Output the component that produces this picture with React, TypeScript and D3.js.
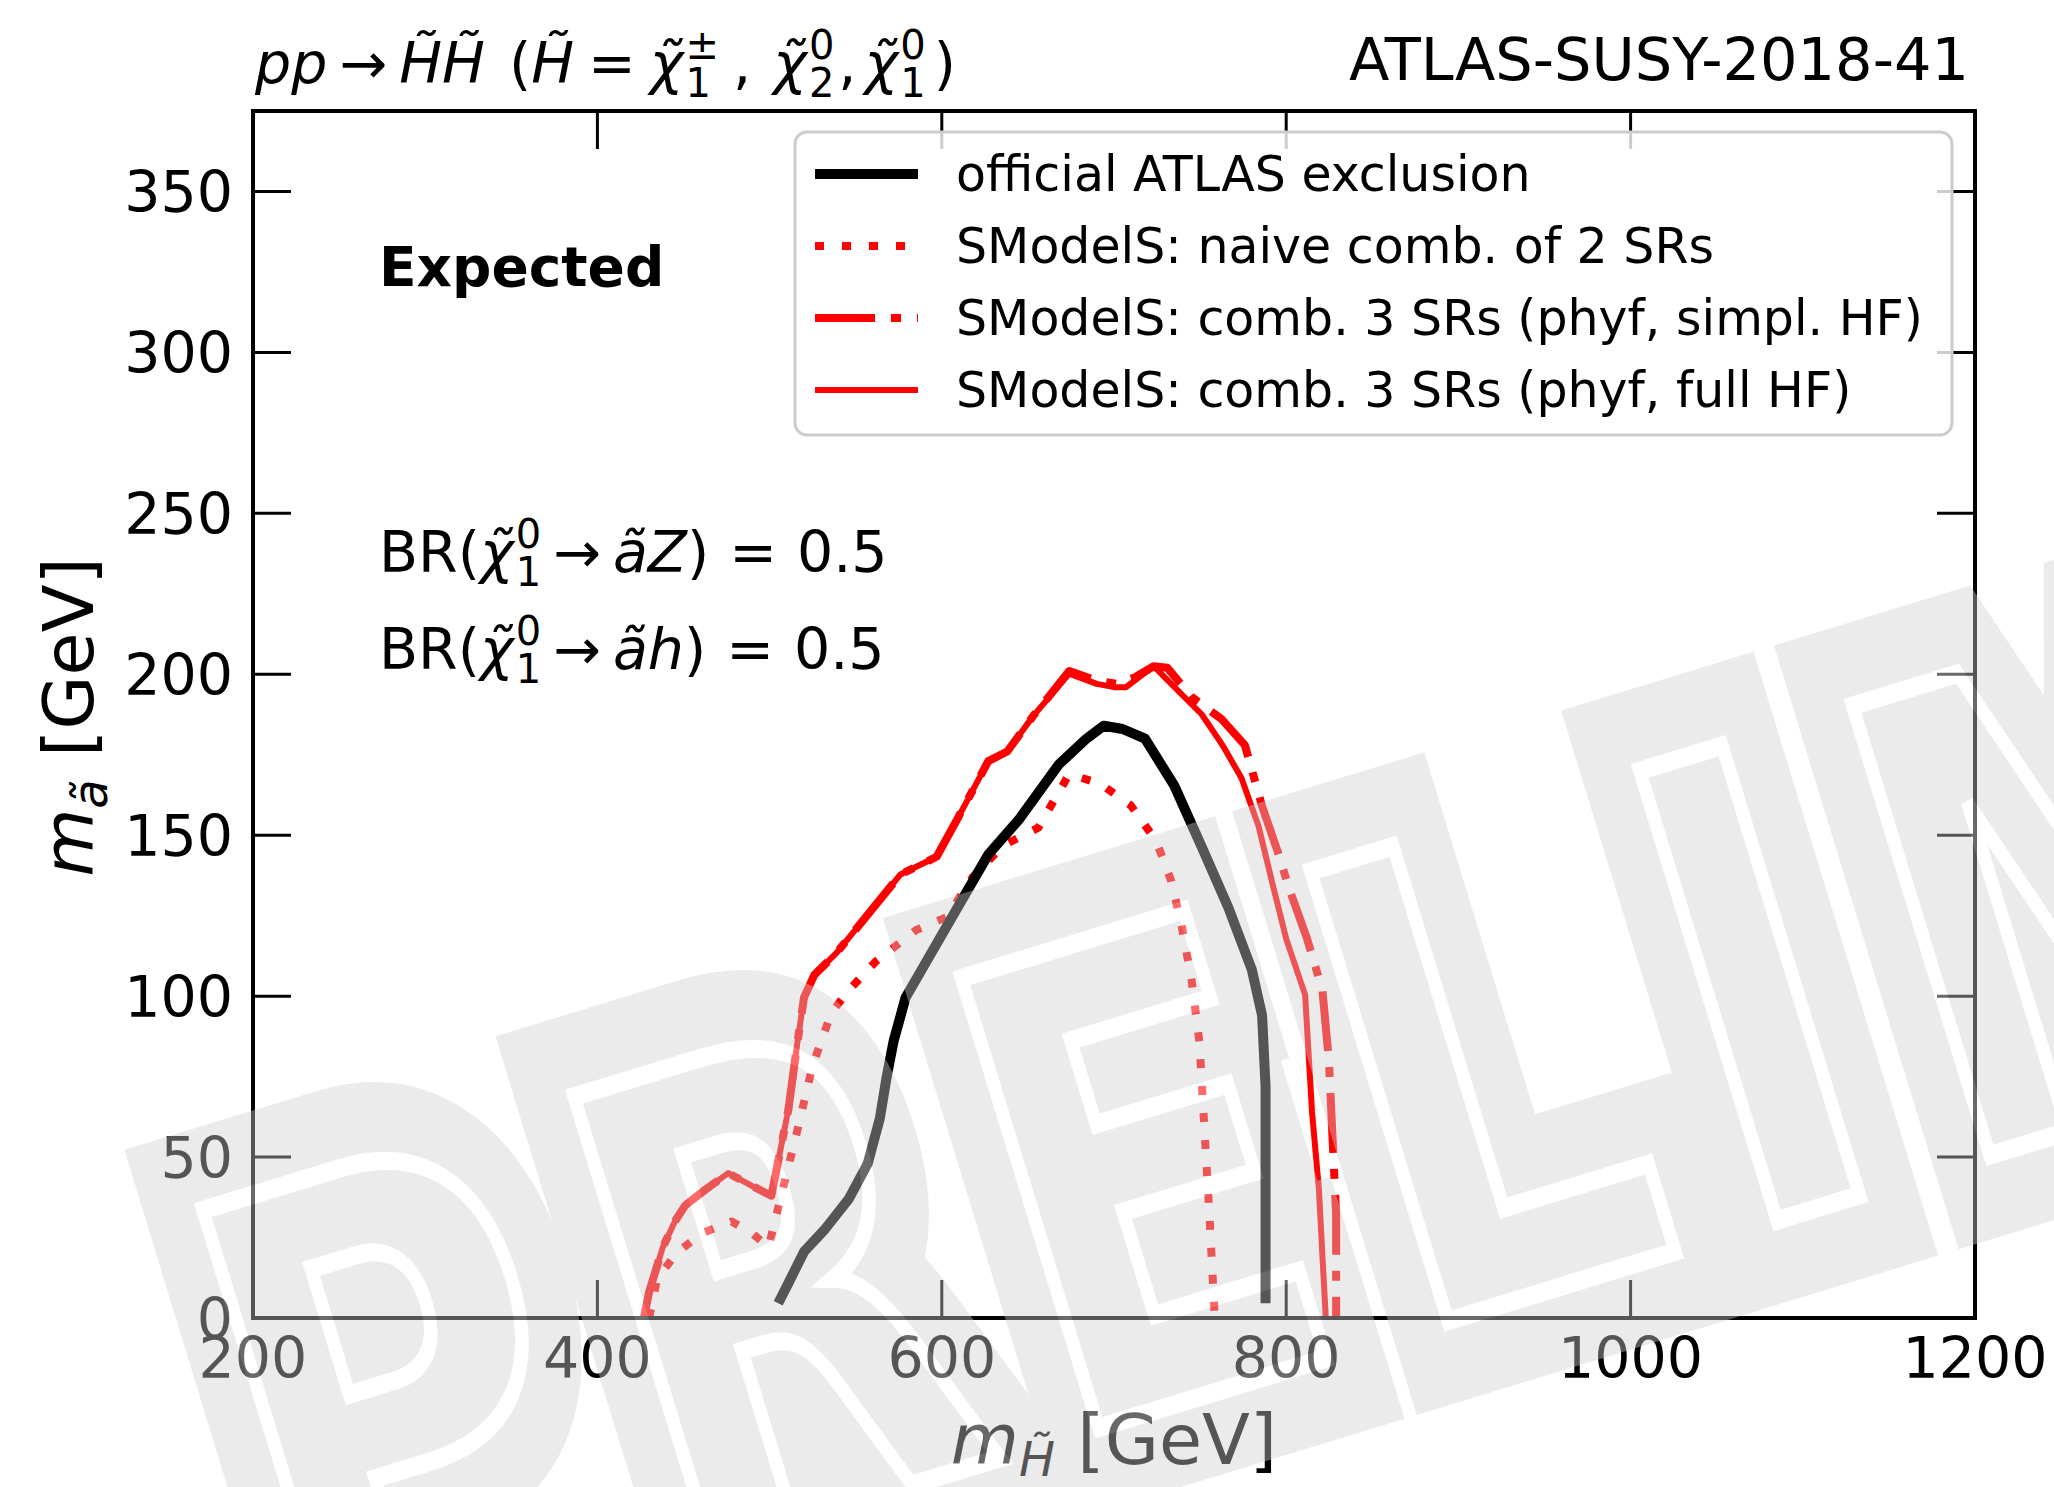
import React, { useEffect } from 'react';
import * as d3 from 'd3';

// ---------- data ----------
const xTicks = [200, 400, 600, 800, 1000, 1200];
const yTicks = [0, 50, 100, 150, 200, 250, 300, 350];
const xDomain = [200, 1200];
const yDomain = [0, 375];

// official ATLAS exclusion (expected)
const officialATLAS: [number, number][] = [
  [505, 4.6], [512, 12], [520, 20.6], [532, 27.5], [546, 37], [557, 48], [564, 62], [568, 75],
  [572, 86], [579, 99.6], [594, 113.5], [609, 127.4], [627, 144], [645, 155], [668, 172],
  [684, 180], [694, 184], [705, 183], [718, 180], [735, 165.4], [751, 146.3], [766.5, 127.4],
  [780, 108.3], [786, 94], [788, 72], [788, 4.6],
];

// SModelS: naive combination of 2 SRs
const naiveComb: [number, number][] = [
  [430, 0], [432, 5], [434.6, 12], [445.6, 20], [460.5, 26.3], [478, 30], [490, 26.3],
  [499.4, 22], [506.7, 38], [516, 58], [525, 78.5], [536, 95], [547, 102.4], [561.5, 110.7],
  [585, 120.5], [603, 124.6], [618, 137], [635.6, 146.8], [656, 152.3], [674, 169], [692, 166],
  [709.7, 159.3], [724.5, 148.2], [733.3, 135.7], [739.3, 121.8], [745, 105.2], [749.6, 85.8],
  [752.6, 58], [755.6, 30.3], [758.5, 0],
];

// SModelS: comb. 3 SRs (pyhf, simplified HF)
const simplHF: [number, number][] = [
  [427, 0], [430, 8], [438, 22], [445, 30], [451, 35], [463, 40], [476, 45], [490, 41],
  [501, 38], [504, 46], [511, 65], [516, 85], [520, 99.6], [526, 106.6], [539, 113.5],
  [558, 126], [576, 137.8], [597, 143.3], [609, 155], [627, 173], [638, 176], [653, 187],
  [674, 201], [690, 198], [702, 197], [712, 199], [723, 202.5], [731, 202], [745, 193],
  [762.6, 186], [776, 178], [786, 159], [795, 145], [801.6, 133.6], [812, 118], [821, 102],
  [824.8, 80], [827, 55], [829, 32], [829, 0],
];

// SModelS: comb. 3 SRs (pyhf, full HF)
const fullHF: [number, number][] = [
  [427, 0], [430, 8], [438, 22], [445, 30], [451, 35], [463, 40], [476, 45], [490, 41],
  [501, 38], [504, 46], [511, 65], [516, 85], [520, 99.6], [526, 106.6], [539, 113.5],
  [558, 126], [576, 137.8], [597, 143.3], [609, 155], [627, 173], [638, 176], [653, 187],
  [674, 200.2], [690, 197], [700, 196], [707, 196], [723, 202.5], [737, 195], [751, 187.5],
  [763, 178], [774, 167.8], [784, 152.7], [792, 135], [800, 117.8], [811, 100.4], [815, 64],
  [819, 40], [821, 19.6], [823, 0],
];

const legendLabels = [
  'official ATLAS exclusion',
  'SModelS: naive comb. of 2 SRs',
  'SModelS: comb. 3 SRs (phyf, simpl. HF)',
  'SModelS: comb. 3 SRs (phyf, full HF)',
];

// ---------- layout ----------
const W = 2054;
const H = 1487;
const M = { left: 253, right: 1975, top: 111, bottom: 1318 };
const FONT = "'DejaVu Sans', sans-serif";

const seriesStyles = [
  { data: officialATLAS, color: '#000000', width: 10, dash: null as string | null },
  { data: naiveComb, color: '#ff0000', width: 8, dash: '9 18' },
  { data: simplHF, color: '#ff0000', width: 8, dash: '60 16 10 16' },
  { data: fullHF, color: '#ff0000', width: 6, dash: null as string | null },
];

function Chi({
  sup,
  sub,
  size,
  after,
  afterDx = 0,
  dx = 0,
}: {
  sup: string;
  sub: string;
  size: number;
  after: string;
  afterDx?: number;
  dx?: number;
}) {
  // italic chi with tilde, stacked superscript / subscript (mathtext-like)
  const s = Math.round(size * 0.7);
  const supW = sup === '±' ? s * 0.84 : s * 0.636;
  const subW = s * 0.636;
  return (
    <>
      <tspan dx={dx} fontStyle="italic">{'\u03C7\u0303'}</tspan>
      <tspan fontSize={s} dx={2} dy={-size * 0.42}>{sup}</tspan>
      <tspan fontSize={s} dx={-supW} dy={size * 0.66}>{sub}</tspan>
      <tspan dx={Math.max(0, supW - subW) + afterDx} dy={-size * 0.24}>{after}</tspan>
    </>
  );
}

export default function App() {
  useEffect(() => {
    document.body.style.margin = '0';
  }, []);

  const x = d3.scaleLinear().domain(xDomain).range([M.left, M.right]);
  const y = d3.scaleLinear().domain(yDomain).range([M.bottom, M.top]);
  const line = d3
    .line<[number, number]>()
    .x((d) => x(d[0]))
    .y((d) => y(d[1]));

  const tickLen = 38;
  const legendRows = [174, 246, 318, 390];

  // watermark placement
  const wmX = 300;
  const wmY = 1672;

  return (
    <svg
      width={W}
      height={H}
      viewBox={`0 0 ${W} ${H}`}
      style={{ position: 'absolute', left: 0, top: 0, background: '#fff' }}
      fontFamily={FONT}
    >
      <rect x={0} y={0} width={W} height={H} fill="#fff" />

      {/* curves */}
      {[...seriesStyles].reverse().map((s, i) => (
        <path
          key={i}
          d={line(s.data) || ''}
          fill="none"
          stroke={s.color}
          strokeWidth={s.width}
          strokeDasharray={s.dash || undefined}
          strokeLinejoin="round"
          strokeLinecap="butt"
        />
      ))}

      {/* ticks (inside, all four sides) */}
      {xTicks.map((t) => (
        <g key={'xt' + t}>
          <line x1={x(t)} x2={x(t)} y1={M.bottom} y2={M.bottom - tickLen} stroke="#000" strokeWidth={3} />
          <line x1={x(t)} x2={x(t)} y1={M.top} y2={M.top + tickLen} stroke="#000" strokeWidth={3} />
          <text x={x(t)} y={1378} fontSize={57} textAnchor="middle" fill="#000">
            {t}
          </text>
        </g>
      ))}
      {yTicks.map((t) => (
        <g key={'yt' + t}>
          <line x1={M.left} x2={M.left + tickLen} y1={y(t)} y2={y(t)} stroke="#000" strokeWidth={3} />
          <line x1={M.right} x2={M.right - tickLen} y1={y(t)} y2={y(t)} stroke="#000" strokeWidth={3} />
          <text x={233} y={y(t) + 21} fontSize={57} textAnchor="end" fill="#000">
            {t}
          </text>
        </g>
      ))}

      {/* frame */}
      <rect
        x={M.left}
        y={M.top}
        width={M.right - M.left}
        height={M.bottom - M.top}
        fill="none"
        stroke="#000"
        strokeWidth={4}
      />

      {/* legend */}
      <rect x={795} y={132} width={1157} height={303} rx={12} fill="#fff" fillOpacity={0.8} stroke="#cccccc" strokeWidth={3} />
      {legendLabels.map((lab, i) => {
        const s = seriesStyles[i];
        const cy = legendRows[i];
        return (
          <g key={'lg' + i}>
            <line
              x1={815}
              x2={918}
              y1={cy}
              y2={cy}
              stroke={s.color}
              strokeWidth={s.width}
              strokeDasharray={s.dash || undefined}
            />
            <text x={956} y={cy + 17} fontSize={49} fill="#000">
              {lab}
            </text>
          </g>
        );
      })}

      {/* titles */}
      <text x={255} y={83} fontSize={57} fill="#000">
        <tspan fontStyle="italic">pp</tspan>
        <tspan dx={12}>{'\u2192'}</tspan>
        <tspan dx={12} fontStyle="italic">{'H\u0303H\u0303'}</tspan>
        <tspan dx={24}>(</tspan>
        <tspan fontStyle="italic">{'H\u0303'}</tspan>
        <tspan dx={14}>=</tspan>
        <Chi dx={14} sup="±" sub="1" size={57} after="," afterDx={14} />
        <Chi dx={22} sup="0" sub="2" size={57} after="," afterDx={4} />
        <Chi dx={8} sup="0" sub="1" size={57} after=")" afterDx={8} />
      </text>
      <text x={1969} y={80} fontSize={59} textAnchor="end" fill="#000">
        ATLAS-SUSY-2018-41
      </text>

      {/* annotations */}
      <text x={379} y={286} fontSize={55} fontWeight="bold" fill="#000">
        Expected
      </text>
      {[
        { y: 572, prod: 'a\u0303', boson: 'Z' },
        { y: 669, prod: 'a\u0303', boson: 'h' },
      ].map((r, i) => (
        <text key={'br' + i} x={379} y={r.y} fontSize={57} fill="#000">
          <tspan>BR(</tspan>
          <Chi sup="0" sub="1" size={57} after={'\u2192'} afterDx={12} />
          <tspan dx={12} fontStyle="italic">{r.prod + r.boson}</tspan>
          <tspan>)</tspan>
          <tspan dx={20}>=</tspan>
          <tspan dx={20}>0.5</tspan>
        </text>
      ))}

      {/* axis labels */}
      <text x={1114} y={1464} fontSize={70} textAnchor="middle" fill="#000">
        <tspan fontStyle="italic">m</tspan>
        <tspan fontSize={48} dy={12} fontStyle="italic">{'H\u0303'}</tspan>
        <tspan dy={-12}> [GeV]</tspan>
      </text>
      <text transform={`translate(93,717) rotate(-90)`} fontSize={70} textAnchor="middle" fill="#000">
        <tspan fontStyle="italic">m</tspan>
        <tspan fontSize={48} dy={14} fontStyle="italic">{'a\u0303'}</tspan>
        <tspan dy={-14}> [GeV]</tspan>
      </text>

      {/* PRELIMINARY watermark */}
      <g opacity={0.41}>
        <g transform={`translate(${wmX},${wmY}) rotate(-17) scale(0.74,1.04)`}>
          <text
            x={0}
            y={0}
            fontSize={620}
            fontWeight="bold"
            letterSpacing={70}
            fill="#cfcfcf"
            stroke="#cfcfcf"
            strokeWidth={140}
            strokeLinejoin="miter"
            vectorEffect="non-scaling-stroke"
          >
            PRELIMINARY
          </text>
          <text
            x={0}
            y={0}
            fontSize={620}
            fontWeight="bold"
            letterSpacing={70}
            fill="none"
            stroke="#ffffff"
            strokeWidth={16}
            vectorEffect="non-scaling-stroke"
          >
            PRELIMINARY
          </text>
        </g>
      </g>
    </svg>
  );
}
